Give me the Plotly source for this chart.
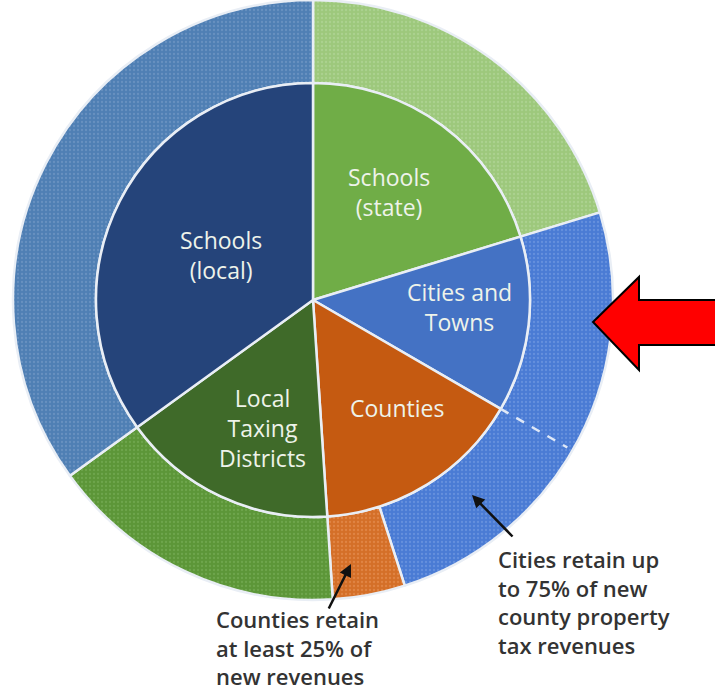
import plotly.graph_objects as go
import math

# ---------------- data ----------------
categories = ["Schools (state)", "Cities and Towns", "Counties",
              "Local Taxing Districts", "Schools (local)"]
inner_labels = ["Schools<br>(state)", "Cities and<br>Towns", "Counties",
                "Local<br>Taxing<br>Districts", "Schools<br>(local)"]
inner_values = [20.3, 13.1, 15.6, 16.1, 35.0]          # current shares (%)
outer_values = [20.3, 24.8, 3.9, 16.1, 35.0]           # shares of new revenues (%)
cities_note = ["Cities retain up", "to 75% of new", "county property", "tax revenues"]
counties_note = ["Counties retain", "at least 25% of", "new revenues"]

inner_colors = ["#70ad47", "#4472c4", "#c55a11", "#3f6a29", "#25447a"]
outer_colors = ["#9dc87c", "#4a7bd4", "#d46f28", "#5c9638", "#4f7fb4"]
outer_dots = ["#b9d9a2", "#7fa3e6", "#eb9a5f", "#7fb35f", "#7fa2cc"]

W, H = 715, 694
CX, CY = 313, 300          # pie centre (px, from top-left)
R_OUT, R_IN = 300, 217      # radii (px)


def px(x):
    return x / W


def py(y):
    return (H - y) / H


fig = go.Figure()

fig.add_trace(go.Pie(
    labels=categories, values=outer_values, sort=False, direction="clockwise",
    rotation=0, hole=R_IN / R_OUT, textinfo="none", hoverinfo="label+value",
    domain=dict(x=[px(CX - R_OUT), px(CX + R_OUT)], y=[py(CY + R_OUT), py(CY - R_OUT)]),
    marker=dict(colors=outer_colors, line=dict(color="#e9eef5", width=2.5),
                pattern=dict(shape=".", fillmode="overlay", fgcolor=outer_dots,
                             size=4, solidity=0.25)),
    showlegend=False,
))

fig.add_trace(go.Pie(
    labels=categories, values=inner_values, sort=False, direction="clockwise",
    rotation=0, textinfo="none", hoverinfo="label+value",
    domain=dict(x=[px(CX - R_IN), px(CX + R_IN)], y=[py(CY + R_IN), py(CY - R_IN)]),
    marker=dict(colors=inner_colors, line=dict(color="#e9eef5", width=2.5)),
    showlegend=False,
))

# inner labels
label_pos = [(389, 192), (459, 307), (397, 408), (262, 428), (221, 255)]
annotations = []
for txt, (x, y) in zip(inner_labels, label_pos):
    annotations.append(dict(
        x=px(x), y=py(y), xref="paper", yref="paper", text=txt, showarrow=False,
        font=dict(family="Open Sans", size=23, color="#eef3ea"), align="center",
        xanchor="center", yanchor="middle"))

# notes
note_font = dict(family="Open Sans", size=22, color="#333333", weight=600)
annotations.append(dict(x=px(496), y=py(542), xref="paper", yref="paper",
                        text="<br>".join(cities_note), showarrow=False, font=note_font,
                        align="left", xanchor="left", yanchor="top"))
annotations.append(dict(x=px(214), y=py(693), xref="paper", yref="paper",
                        text="<br>".join(counties_note), showarrow=False, font=note_font,
                        align="left", xanchor="left", yanchor="bottom"))

# pointer arrows
annotations.append(dict(x=px(472), y=py(495), xref="paper", yref="paper", text="",
                        showarrow=True, ax=42, ay=43, arrowhead=2, arrowsize=1,
                        arrowwidth=2.5, arrowcolor="#111111"))
annotations.append(dict(x=px(351), y=py(564), xref="paper", yref="paper", text="",
                        showarrow=True, ax=-23, ay=46, arrowhead=2, arrowsize=1,
                        arrowwidth=2.5, arrowcolor="#111111"))

# dashed line marking the old cities/counties boundary
ang = (inner_values[0] + inner_values[1]) / sum(inner_values) * 2 * math.pi
x0, y0 = CX + R_IN * math.sin(ang), CY - R_IN * math.cos(ang)
x1, y1 = CX + (R_OUT - 6) * math.sin(ang), CY - (R_OUT - 6) * math.cos(ang)
shapes = [dict(type="line", xref="paper", yref="paper", x0=px(x0), y0=py(y0),
               x1=px(x1), y1=py(y1), line=dict(color="#dfe8f7", width=2.5, dash="dash"))]

# red arrow
pts = [(593, 322), (639, 277), (639, 300), (716, 300), (716, 345), (639, 345), (639, 370)]
path = "M " + " L ".join(f"{px(a):.4f},{py(b):.4f}" for a, b in pts) + " Z"
shapes.append(dict(type="path", xref="paper", yref="paper", path=path,
                   fillcolor="#ff0000", line=dict(color="#000000", width=2)))

fig.update_layout(width=W, height=H, margin=dict(l=0, r=0, t=0, b=0),
                  paper_bgcolor="white", plot_bgcolor="white",
                  annotations=annotations, shapes=shapes, showlegend=False)

fig.write_html("out.html", config={"displayModeBar": False},
               post_script="document.body.style.margin='0';")
